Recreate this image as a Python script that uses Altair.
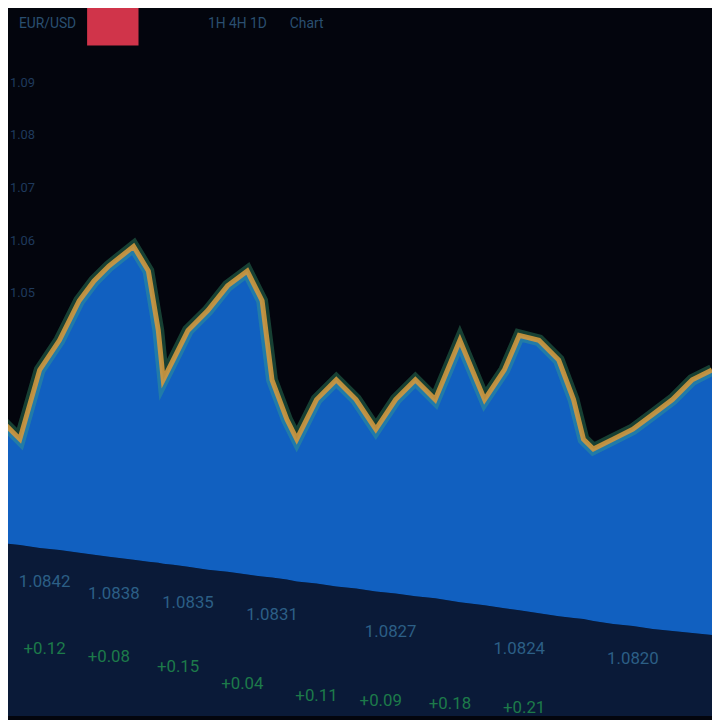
import altair as alt
import pandas as pd

# price path (x position along time axis, level)
t_vals = [0, 20, 40, 60, 80, 95, 110, 135, 150, 160, 165, 175, 190, 210, 230, 250, 265, 275,
          290, 300, 320, 340, 360, 380, 400, 420, 440, 465, 490, 510, 525, 545, 565, 580,
          590, 600, 620, 640, 660, 680, 700, 720]
top_y = [420, 440, 370, 340, 300, 280, 265, 245, 270, 330, 380, 360, 330, 310, 285, 270, 300, 380,
         420, 440, 400, 380, 400, 430, 400, 380, 400, 340, 400, 370, 335, 340, 360, 400,
         440, 450, 440, 430, 415, 400, 380, 370]
# lower edge of filled band (perspective baseline)
base_y = [545, 547, 550, 552, 555, 557, 559, 562, 564, 565, 566, 567, 569, 572, 574, 577, 579, 580,
          582, 584, 586, 589, 591, 594, 596, 599, 601, 605, 608, 611, 613, 616, 619, 621,
          622, 624, 627, 629, 632, 634, 636, 638]

row1_x = [45, 115, 190, 275, 395, 525, 640]
row1_y = [585, 597, 606, 618, 635, 652, 662]
row1_t = ["1.0842", "1.0838", "1.0835", "1.0831", "1.0827", "1.0824", "1.0820"]
row2_x = [45, 110, 180, 245, 320, 385, 455, 530]
row2_y = [652, 660, 670, 688, 700, 705, 708, 712]
row2_t = ["+0.12", "+0.08", "+0.15", "+0.04", "+0.11", "+0.09", "+0.18", "+0.21"]
axis_y = [80, 132, 186, 240, 292]
axis_t = ["1.09", "1.08", "1.07", "1.06", "1.05"]
head_x = [48, 240, 310]
head_y = [20, 20, 20]
head_t = ["EUR/USD", "1H  4H  1D", "Chart"]

W = 712
xs = alt.Scale(domain=[8, 720], nice=False, zero=False)
ys = alt.Scale(domain=[720, 8], nice=False, zero=False)

df = pd.DataFrame({"t": t_vals, "top": top_y, "base": base_y})
r1 = pd.DataFrame({"x": row1_x, "y": row1_y, "t": row1_t})
r2 = pd.DataFrame({"x": row2_x, "y": row2_y, "t": row2_t})
ax = pd.DataFrame({"x": [10] * len(axis_y), "y": axis_y, "t": axis_t})
htxt = pd.DataFrame({"x": head_x, "y": head_y, "t": head_t})

noax = dict(axis=None)

band = alt.Chart(df).mark_area(color="#0a1a38", opacity=1).encode(
    x=alt.X("t:Q", scale=xs, **noax),
    y=alt.Y("base:Q", scale=ys, **noax),
    y2=alt.datum(720),
)
area = alt.Chart(df).mark_area(color="#1160c0", opacity=1).encode(
    x=alt.X("t:Q", scale=xs),
    y=alt.Y("top:Q", scale=ys),
    y2="base:Q",
)
glow = alt.Chart(df).mark_line(color="#3fae7a", strokeWidth=12, opacity=0.35).encode(
    x=alt.X("t:Q", scale=xs), y=alt.Y("top:Q", scale=ys)
)
line = alt.Chart(df).mark_line(color="#d0983e", strokeWidth=5, opacity=0.9).encode(
    x=alt.X("t:Q", scale=xs), y=alt.Y("top:Q", scale=ys)
)
t1 = alt.Chart(r1).mark_text(color="#2c5f86", fontSize=17, font="Roboto").encode(
    x=alt.X("x:Q", scale=xs), y=alt.Y("y:Q", scale=ys), text="t:N"
)
t2 = alt.Chart(r2).mark_text(color="#1d7a4a", fontSize=17, font="Roboto").encode(
    x=alt.X("x:Q", scale=xs), y=alt.Y("y:Q", scale=ys), text="t:N"
)
t3 = alt.Chart(ax).mark_text(color="#1f3a5c", fontSize=13, font="Roboto", align="left").encode(
    x=alt.X("x:Q", scale=xs), y=alt.Y("y:Q", scale=ys), text="t:N"
)
hdr = pd.DataFrame({"x": [88], "x2": [140], "y": [0], "y2": [42]})
redbox = alt.Chart(hdr).mark_rect(color="#d0344a").encode(
    x=alt.X("x:Q", scale=xs), x2="x2:Q", y=alt.Y("y:Q", scale=ys), y2="y2:Q"
)
ht = alt.Chart(htxt).mark_text(color="#2a4f70", fontSize=14, font="Roboto").encode(
    x=alt.X("x:Q", scale=xs), y=alt.Y("y:Q", scale=ys), text="t:N"
)

chart = alt.layer(band, area, glow, line, t1, t2, t3, redbox, ht).properties(
    width=W, height=W, background="#03050d", padding=0,
    autosize=alt.AutoSizeParams(type="none"),
).configure_view(stroke=None, fill="#03050d")

chart.save("out.html", embed_options={"renderer": "svg", "actions": False})
